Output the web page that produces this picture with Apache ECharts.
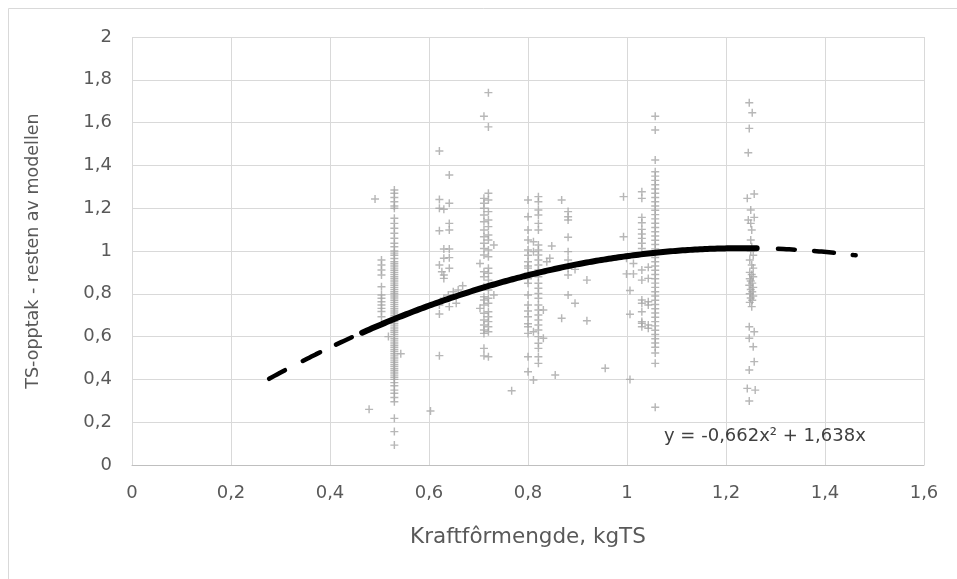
<!DOCTYPE html>
<html>
<head>
<meta charset="utf-8">
<script src="https://cdn.jsdelivr.net/npm/echarts@6/dist/echarts.min.js"></script>
<style>
html,body{margin:0;padding:0;background:#fff;}
#c{width:957px;height:579px;}
</style>
</head>
<body>
<div id="c"></div>
<script>
// ---- Data ----
const xTicks = [0, 0.2, 0.4, 0.6, 0.8, 1, 1.2, 1.4, 1.6];
const yTicks = [0, 0.2, 0.4, 0.6, 0.8, 1, 1.2, 1.4, 1.6, 1.8, 2];

const pts_049 = [[0.491,1.243],[0.479,0.26],[0.518,0.6],[0.543,0.52],[0.504,0.958],[0.504,0.935],[0.504,0.911],[0.504,0.888],[0.504,0.833],[0.504,0.794],[0.504,0.779],[0.504,0.763],[0.504,0.748],[0.504,0.732],[0.504,0.717],[0.504,0.693]];
const x_053 = 0.53;
const y_053 = [1.285,1.27,1.25,1.23,1.21,1.2,1.153,1.129,1.106,1.083,1.06,1.036,1.02,1.0,0.99,0.98,0.965,0.95,0.94,0.93,0.92,0.91,0.9,0.89,0.88,0.87,0.86,0.85,0.84,0.83,0.82,0.81,0.8,0.79,0.78,0.77,0.76,0.75,0.74,0.73,0.72,0.71,0.7,0.69,0.68,0.67,0.66,0.65,0.64,0.63,0.62,0.61,0.6,0.59,0.58,0.57,0.56,0.55,0.54,0.53,0.52,0.51,0.5,0.49,0.48,0.47,0.46,0.45,0.44,0.43,0.42,0.41,0.4,0.385,0.37,0.35,0.335,0.315,0.296,0.218,0.156,0.093];
const pts_062 = [[0.621,1.467],[0.641,1.355],[0.621,1.241],[0.641,1.223],[0.621,1.2],[0.630,1.195],[0.641,1.129],[0.641,1.098],[0.621,1.095],[0.630,1.009],[0.641,1.009],[0.641,0.969],[0.630,0.966],[0.621,0.935],[0.641,0.919],[0.626,0.903],[0.630,0.888],[0.630,0.872],[0.649,0.81],[0.659,0.818],[0.668,0.838],[0.639,0.794],[0.630,0.779],[0.621,0.748],[0.641,0.74],[0.655,0.756],[0.621,0.706],[0.621,0.511],[0.603,0.252]];
const x_071 = 0.711;
const y_071 = [1.63,1.246,1.223,1.2,1.168,1.137,1.098,1.067,1.036,1.012,0.981,0.903,0.88,0.833,0.786,0.771,0.748,0.709,0.678,0.654,0.631,0.615,0.545,0.51];
const x_072 = 0.72;
const y_072 = [1.74,1.58,1.27,1.238,1.184,1.145,1.114,1.075,1.051,1.005,0.973,0.919,0.896,0.864,0.818,0.779,0.756,0.716,0.693,0.67,0.646,0.623,0.506];
const pts_073 = [[0.731,1.028],[0.731,0.794],[0.703,0.942],[0.703,0.732]];
const x_080 = 0.8;
const y_080 = [1.238,1.16,1.098,1.051,1.005,0.98,0.95,0.93,0.92,0.896,0.87,0.849,0.794,0.748,0.72,0.693,0.66,0.646,0.615,0.506,0.436];
const x_082 = 0.821;
const y_082 = [1.254,1.23,1.192,1.168,1.129,1.098,1.028,1.005,0.981,0.958,0.935,0.911,0.88,0.849,0.826,0.802,0.779,0.748,0.724,0.701,0.678,0.654,0.631,0.6,0.569,0.545,0.506,0.475];
const pts_085 = [[0.811,1.043],[0.811,0.997],[0.811,0.623],[0.811,0.397],[0.831,0.724],[0.831,0.592],[0.848,1.023],[0.844,0.966],[0.838,0.95],[0.868,1.238],[0.895,0.914],[0.895,0.756],[0.868,0.686],[0.919,0.864],[0.919,0.674],[0.855,0.421],[0.767,0.347],[0.956,0.452]];
const x_088 = 0.881;
const y_088 = [1.184,1.16,1.145,1.064,0.997,0.958,0.919,0.888,0.794];
const pts_100 = [[0.993,1.254],[0.993,1.067],[0.999,0.966],[1.013,0.942],[0.999,0.893],[1.013,0.893],[1.03,0.911],[1.043,0.924],[1.03,0.864],[1.043,0.872],[1.006,0.815],[1.006,0.704],[1.006,0.40],[1.043,0.763],[1.043,0.748],[1.043,0.654],[1.043,0.639]];
const x_103 = 1.03;
const y_103 = [1.277,1.246,1.157,1.132,1.101,1.079,1.059,1.036,1.012,0.771,0.756,0.716,0.67,0.662,0.646];
const x_106 = 1.057;
const y_106 = [1.63,1.565,1.425,1.37,1.35,1.33,1.31,1.29,1.27,1.25,1.23,1.21,1.19,1.17,1.15,1.13,1.11,1.09,1.07,1.05,1.03,1.01,0.99,0.97,0.95,0.93,0.91,0.89,0.87,0.85,0.83,0.81,0.79,0.77,0.75,0.73,0.71,0.69,0.67,0.65,0.63,0.61,0.59,0.57,0.55,0.523,0.475,0.27];
const pts_125 = [[1.247,1.693],[1.253,1.646],[1.247,1.573],[1.245,1.459],[1.243,1.246],[1.257,1.266],[1.250,1.192],[1.245,1.145],[1.257,1.157],[1.250,1.129],[1.252,1.098],[1.250,1.051],[1.252,1.02],[1.250,1.0],[1.255,0.98],[1.248,0.958],[1.252,0.935],[1.255,0.92],[1.248,0.9],[1.252,0.89],[1.255,0.88],[1.248,0.87],[1.25,0.86],[1.253,0.85],[1.247,0.84],[1.255,0.83],[1.25,0.82],[1.253,0.81],[1.248,0.8],[1.255,0.79],[1.25,0.78],[1.253,0.77],[1.248,0.76],[1.252,0.74],[1.247,0.646],[1.257,0.623],[1.247,0.592],[1.255,0.553],[1.257,0.483],[1.247,0.444],[1.243,0.358],[1.259,0.35],[1.247,0.299]];

// Trendline (polynomial, order 2, through origin) as shown in the chart
const trendCoef = [-0.662, 1.638, 0];      // a, b, c  -> y = a x^2 + b x + c
const trendSolidRange = [0.465, 1.262];
// x-ranges of the dashes of the extended (forecast/backcast) part
const trendDashRanges = [[0.277, 0.309], [0.345, 0.38], [0.412, 0.444], [1.305, 1.339], [1.378, 1.418], [1.456, 1.462]];
const trendLabel = 'y = -0,662x² + 1,638x';

// ---- Build ----
function col(x, ys){ return ys.map(y => [x, y]); }
const scatterData = [].concat(
  pts_049, col(x_053, y_053), pts_062, col(x_071, y_071), col(x_072, y_072), pts_073,
  col(x_080, y_080), col(x_082, y_082), pts_085, col(x_088, y_088), pts_100,
  col(x_103, y_103), col(x_106, y_106), pts_125
);
function trend(x0, x1){
  const out = [];
  const n = Math.max(2, Math.round((x1 - x0) / 0.01));
  for (let i = 0; i <= n; i++){
    const x = x0 + (x1 - x0) * i / n;
    out.push([x, trendCoef[0]*x*x + trendCoef[1]*x + trendCoef[2]]);
  }
  return out;
}
const fmt = v => String(+v.toFixed(1)).replace('.', ',');
const FONT = 'DejaVu Sans, Verdana, sans-serif';
const plus = 'path://M-0.18,-1H0.18V-0.18H1V0.18H0.18V1H-0.18V0.18H-1V-0.18H-0.18Z';

const series = [
  {type: 'scatter', data: scatterData, symbol: plus, symbolSize: 8,
   itemStyle: {color: '#a5a5a5'}, z: 2},
  {type: 'line', data: trend(trendSolidRange[0], trendSolidRange[1]), showSymbol: false, symbol: 'none', smooth: true,
   lineStyle: {color: '#000', width: 6, cap: 'round'}, z: 3}
];
trendDashRanges.forEach(r => series.push({
  type: 'line', data: trend(r[0], r[1]), showSymbol: false, symbol: 'none', smooth: true,
  lineStyle: {color: '#000', width: 4.5, cap: 'round'}, z: 3
}));

const chart = echarts.init(document.getElementById('c'), null, {renderer: 'canvas'});
chart.setOption({
  animation: false,
  backgroundColor: '#fff',
  grid: {left: 132, top: 37, right: 33, bottom: 114, containLabel: false},
  graphic: [
    {type: 'rect', left: 6, top: 6, shape: {x: 0, y: 0, width: 1000, height: 1000},
     style: {fill: 'none', stroke: '#d9d9d9', lineWidth: 1}, silent: true},
    {type: 'text', left: 664, top: 427, z: 10,
     style: {text: trendLabel, fontFamily: FONT, fontSize: 18, fill: '#404040'}}
  ],
  xAxis: {
    type: 'value', min: 0, max: 1.6, interval: 0.2,
    name: 'Kraftfôrmengde, kgTS', nameLocation: 'middle', nameGap: 61,
    nameTextStyle: {fontFamily: FONT, fontSize: 21.5, color: '#595959'},
    axisLine: {show: true, lineStyle: {color: '#bfbfbf', width: 1}},
    axisTick: {show: false},
    axisLabel: {formatter: fmt, fontFamily: FONT, fontSize: 18, color: '#595959', margin: 19},
    splitLine: {show: true, lineStyle: {color: '#d9d9d9', width: 1}}
  },
  yAxis: {
    type: 'value', min: 0, max: 2, interval: 0.2,
    name: 'TS-opptak - resten av modellen', nameLocation: 'middle', nameGap: 90,
    nameTextStyle: {fontFamily: FONT, fontSize: 17.5, color: '#595959'},
    axisLine: {show: false}, axisTick: {show: false},
    axisLabel: {formatter: fmt, fontFamily: FONT, fontSize: 18, color: '#595959', margin: 20},
    splitLine: {show: true, lineStyle: {color: '#d9d9d9', width: 1}}
  },
  series: series
});
</script>
</body>
</html>
